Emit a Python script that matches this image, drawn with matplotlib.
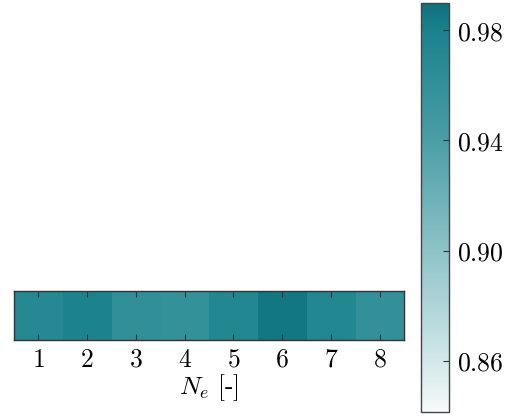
import numpy as np
import matplotlib
matplotlib.use("Agg")
import matplotlib.pyplot as plt
from matplotlib.colors import LinearSegmentedColormap, Normalize
from matplotlib.ticker import FuncFormatter

plt.rcParams['mathtext.fontset'] = 'cm'
plt.rcParams['font.family'] = 'serif'
plt.rcParams['font.serif'] = ['DejaVu Serif']

categories = [1, 2, 3, 4, 5, 6, 7, 8]
values = [0.970, 0.978, 0.961, 0.958, 0.972, 0.986, 0.972, 0.959]
cbar_ticks = [0.86, 0.90, 0.94, 0.98]
vmin, vmax = 0.8415, 0.9898

def frac(v):
    return (v - vmin) / (vmax - vmin)

cmap = LinearSegmentedColormap.from_list('tealw', [
    (0.0, '#f5fafa'),
    (frac(0.86), '#d2e7e9'),
    (frac(0.90), '#8cc3c8'),
    (frac(0.94), '#4a9ea6'),
    (frac(0.98), '#1a828d'),
    (1.0, '#0e717c'),
])
norm = Normalize(vmin=vmin, vmax=vmax)

fig = plt.figure(figsize=(5.14, 4.16), dpi=100)
ax = fig.add_axes([0.0272, 0.1827, 0.7588, 0.1178])
data = np.array(values)[None, :]
ax.imshow(data, cmap=cmap, norm=norm, aspect='auto',
          extent=[0.5, len(categories) + 0.5, 0, 1])
ax.set_xlim(0.5, len(categories) + 0.5)
ax.set_ylim(0, 1)
ax.set_xticks(categories)
ax.set_xticklabels([r'$%d$' % c for c in categories], fontsize=18.5)
ax.set_yticks([])
ax.tick_params(axis='x', direction='in', top=True, bottom=True, length=4,
               width=0.8, color='#333333', pad=5)
for s in ax.spines.values():
    s.set_color('#333333')
    s.set_linewidth(1.0)
ax.set_xlabel(r'$N_e\ \mathrm{[\text{-}]}$', fontsize=18.5, labelpad=0)

cax = fig.add_axes([0.819, 0.0096, 0.0545, 0.9832])
sm = matplotlib.cm.ScalarMappable(norm=norm, cmap=cmap)
cb = fig.colorbar(sm, cax=cax)
cb.set_ticks(cbar_ticks)
cb.ax.yaxis.set_major_formatter(FuncFormatter(lambda v, p: r'$%.2f$' % v))
cb.ax.tick_params(direction='in', length=4, width=0.8, color='#333333',
                  labelsize=18.5, pad=6)
cb.outline.set_edgecolor('#444444')
cb.outline.set_linewidth(1.0)

fig.savefig('out.png', dpi=100)
